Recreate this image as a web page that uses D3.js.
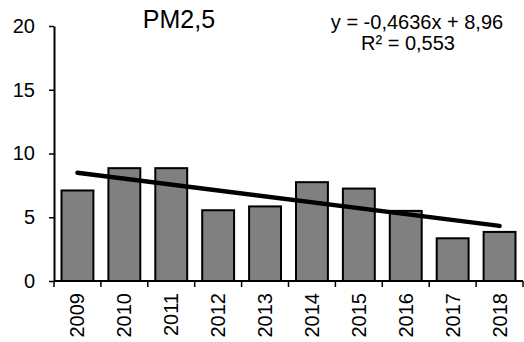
<!DOCTYPE html>
<html>
<head>
<meta charset="utf-8">
<script src="https://cdn.jsdelivr.net/npm/d3@7"></script>
<style>
  body { margin: 0; background: #fff; }
  text { font-family: Arial, "Liberation Sans", sans-serif; fill: #000; }
</style>
</head>
<body>
<div id="chart"></div>
<script>
const years = ["2009", "2010", "2011", "2012", "2013", "2014", "2015", "2016", "2017", "2018"];
const pm25 = [7.1, 8.85, 8.85, 5.55, 5.85, 7.75, 7.25, 5.5, 3.35, 3.85];
const yTicks = [0, 5, 10, 15, 20];
const trendSlope = -0.4636;
const trendIntercept = 8.96;
const chartTitle = "PM2,5";
const eqLine1 = "y = -0,4636x + 8,96";
const eqLine2 = "R² = 0,553";

const width = 524, height = 342;
const margin = {top: 26, right: 1, bottom: 61, left: 54};

const svg = d3.select("#chart")
    .append("svg")
    .attr("width", width)
    .attr("height", height);

const x = d3.scaleBand()
    .domain(years)
    .range([margin.left, width - margin.right])
    .paddingInner(0.32)
    .paddingOuter(0.16);

const y = d3.scaleLinear()
    .domain([0, 20])
    .range([height - margin.bottom, margin.top]);

// bars
svg.append("g")
    .selectAll("rect")
    .data(pm25)
    .enter()
    .append("rect")
    .attr("x", (d, i) => x(years[i]))
    .attr("y", d => y(d))
    .attr("width", x.bandwidth())
    .attr("height", d => y(0) - y(d))
    .attr("fill", "#808080")
    .attr("stroke", "#000")
    .attr("stroke-width", 2);

// y axis
const yAxis = svg.append("g")
    .attr("transform", `translate(${margin.left},0)`)
    .call(d3.axisLeft(y).tickValues(yTicks).tickSize(5).tickSizeOuter(0).tickPadding(14));
yAxis.select(".domain").attr("stroke-width", 2);
yAxis.selectAll(".tick line").attr("stroke-width", 1.5);
yAxis.selectAll("text").style("font-size", "20px");

// x axis line + boundary ticks
const step = x.step();
const x0 = x.range()[0];
const xAxis = svg.append("g");
xAxis.append("line")
    .attr("x1", x.range()[0])
    .attr("x2", x.range()[1])
    .attr("y1", y(0))
    .attr("y2", y(0))
    .attr("stroke", "#000")
    .attr("stroke-width", 2);
xAxis.selectAll(".btick")
    .data(d3.range(years.length + 1))
    .enter()
    .append("line")
    .attr("class", "btick")
    .attr("x1", i => x0 + i * step)
    .attr("x2", i => x0 + i * step)
    .attr("y1", y(0))
    .attr("y2", y(0) + 6)
    .attr("stroke", "#000")
    .attr("stroke-width", 1.5);
xAxis.selectAll(".xlabel")
    .data(years)
    .enter()
    .append("text")
    .attr("class", "xlabel")
    .attr("transform", d => `translate(${x(d) + x.bandwidth() / 2 + 7},${y(0) + 12}) rotate(-90)`)
    .attr("text-anchor", "end")
    .style("font-size", "20px")
    .text(d => d);

// trendline
const trend = years.map((d, i) => ({year: d, v: trendSlope * (i + 1) + trendIntercept}));
const [tFirst, tLast] = [trend[0], trend[trend.length - 1]];
svg.append("line")
    .attr("x1", x(tFirst.year) + x.bandwidth() / 2)
    .attr("y1", y(tFirst.v))
    .attr("x2", x(tLast.year) + x.bandwidth() / 2)
    .attr("y2", y(tLast.v))
    .attr("stroke", "#000")
    .attr("stroke-width", 4.5)
    .attr("stroke-linecap", "round");

// title
svg.append("text")
    .attr("x", 179)
    .attr("y", 28)
    .attr("text-anchor", "middle")
    .style("font-size", "25px")
    .text(chartTitle);

// equation label
svg.append("text")
    .attr("x", 417)
    .attr("y", 29)
    .attr("text-anchor", "middle")
    .style("font-size", "20px")
    .text(eqLine1);
svg.append("text")
    .attr("x", 408)
    .attr("y", 50)
    .attr("text-anchor", "middle")
    .style("font-size", "20px")
    .text(eqLine2);
</script>
</body>
</html>
